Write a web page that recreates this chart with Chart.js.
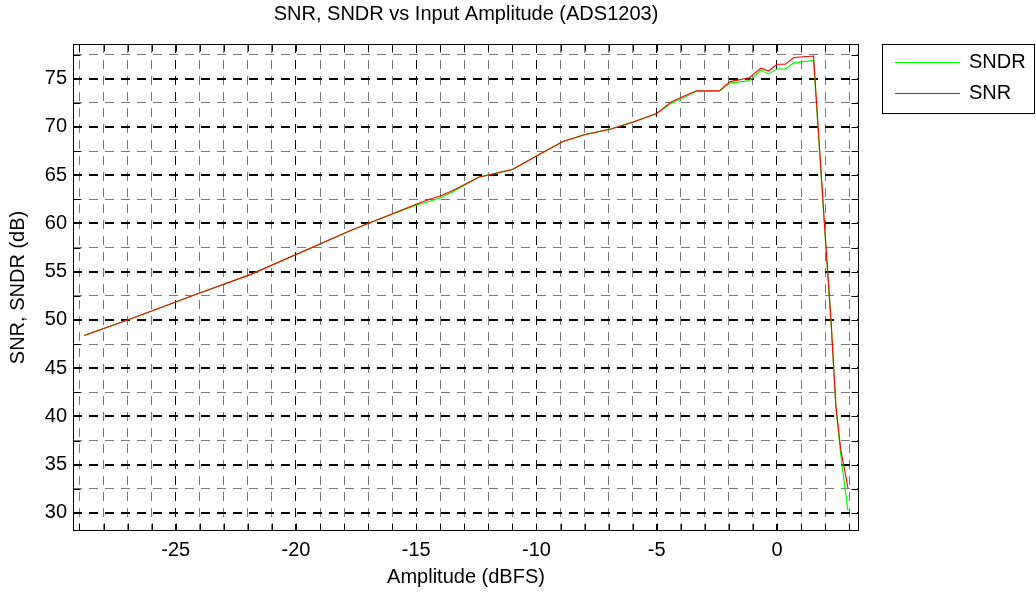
<!DOCTYPE html>
<html lang="en">
<head>
    <meta charset="UTF-8">
    <title>SNR, SNDR vs Input Amplitude</title>
    <script src="https://cdn.jsdelivr.net/npm/chart.js"></script>
    <style>
        body {
            margin: 0;
            padding: 0;
            background-color: #ffffff;
        }
    </style>
</head>
<body>
    <canvas id="snrChart" width="1036" height="593"></canvas>
    <script>
        // input amplitude (dBFS)
        const amplitude = [-28.8, -27.0, -24.0, -21.9, -17.7, -16.9, -15.0, -14.5, -14.0, -13.5, -12.4, -11.0, -10.0, -8.9, -8.0, -6.9, -6.0, -5.0, -4.4, -3.9, -3.35, -2.4, -1.95, -1.15, -0.67, -0.35, 0.0, 0.35, 0.7, 1.52, 1.75, 2.0, 2.25, 2.45, 2.65, 2.95];
        const snr = [48.4, 50.0, 52.8, 54.7, 59.3, 60.1, 62.0, 62.45, 62.85, 63.4, 64.8, 65.6, 67.0, 68.5, 69.2, 69.8, 70.5, 71.4, 72.6, 73.15, 73.75, 73.75, 74.7, 75.1, 76.1, 75.8, 76.5, 76.5, 77.2, 77.35, 68.5, 59.0, 49.8, 41.1, 36.6, 32.6];
        const sndr = [48.4, 50.0, 52.8, 54.7, 59.3, 60.1, 61.9, 62.25, 62.65, 63.25, 64.8, 65.6, 67.0, 68.5, 69.2, 69.8, 70.5, 71.4, 72.45, 73.0, 73.7, 73.7, 74.55, 74.8, 75.9, 75.5, 76.0, 76.0, 76.65, 76.9, 68.3, 58.8, 49.7, 40.9, 36.1, 30.2];

        // tick positions (grid every 1 dB / 2.5 dB, labels every 5)
        const xTicks = [];
        for (let v = -29; v <= 3; v++) xTicks.push(v);
        const yTicks = [];
        for (let v = 30; v <= 77.5; v += 2.5) yTicks.push(v);

        const FONT = '"Liberation Sans", Arial, Helvetica, sans-serif';
        Chart.defaults.font.family = FONT;
        Chart.defaults.font.size = 20;
        Chart.defaults.color = '#000';

        const toPoints = (ys) => ys.map((y, i) => ({ x: amplitude[i], y: y }));
        const isMajor = (v) => Math.abs(v % 5) < 1e-6;

        // plot box, inner tick marks and legend, drawn like the old matlab figure
        const axesFrame = {
            id: 'axesFrame',
            beforeDatasetsDraw(chart) {
                const { ctx, chartArea: a, scales } = chart;
                const l = Math.round(a.left) + 0.5, r = Math.round(a.right) - 0.5;
                const t = Math.round(a.top) + 0.5, b = Math.round(a.bottom) - 0.5;
                ctx.save();
                ctx.strokeStyle = '#000';
                ctx.lineWidth = 1;
                ctx.beginPath();
                xTicks.forEach(v => {
                    const px = Math.round(scales.x.getPixelForValue(v)) + 0.5;
                    ctx.moveTo(px, t); ctx.lineTo(px, t + 7);
                    ctx.moveTo(px, b); ctx.lineTo(px, b - 7);
                });
                yTicks.forEach(v => {
                    const py = Math.round(scales.y.getPixelForValue(v)) + 0.5;
                    ctx.moveTo(l, py); ctx.lineTo(l + 7, py);
                    ctx.moveTo(r, py); ctx.lineTo(r - 7, py);
                });
                ctx.stroke();
                ctx.strokeRect(l, t, r - l, b - t);
                ctx.restore();
            },
            afterDraw(chart) {
                const ctx = chart.ctx;
                ctx.save();
                ctx.fillStyle = '#fff';
                ctx.fillRect(882, 44, 153, 70);
                ctx.strokeStyle = '#000';
                ctx.lineWidth = 1;
                ctx.strokeRect(882.5, 44.5, 152, 69);
                ctx.font = '20px ' + FONT;
                ctx.textBaseline = 'middle';
                ctx.fillStyle = '#000';
                chart.data.datasets.forEach((ds, i) => {
                    const y = 62.5 + i * 31;
                    ctx.strokeStyle = ds.borderColor;
                    ctx.beginPath();
                    ctx.moveTo(895, y);
                    ctx.lineTo(960, y);
                    ctx.stroke();
                    ctx.fillText(ds.label, 969, y);
                });
                ctx.restore();
            }
        };

        const gridColor = (ctx) => isMajor(ctx.tick.value) ? '#000000' : '#7a7a7a';

        new Chart(document.getElementById('snrChart'), {
            type: 'line',
            data: {
                datasets: [{
                    label: 'SNDR',
                    data: toPoints(sndr),
                    borderColor: '#00ff00',
                    borderWidth: 1.2,
                    pointRadius: 0,
                    tension: 0,
                    order: 1
                }, {
                    label: 'SNR',
                    data: toPoints(snr),
                    borderColor: '#ff0000',
                    borderWidth: 1.1,
                    pointRadius: 0,
                    tension: 0,
                    order: 0
                }]
            },
            options: {
                responsive: false,
                animation: false,
                devicePixelRatio: 1,
                layout: {
                    padding: { left: 0, right: 177, top: 0, bottom: 0 }
                },
                plugins: {
                    legend: { display: false },
                    tooltip: { enabled: false },
                    title: {
                        display: true,
                        text: 'SNR, SNDR vs Input Amplitude (ADS1203)',
                        fullSize: false,
                        color: '#000',
                        font: { size: 20, weight: 'normal' },
                        padding: { top: 2, bottom: 18 }
                    }
                },
                scales: {
                    x: {
                        type: 'linear',
                        min: -29.27,
                        max: 3.41,
                        afterBuildTicks: (scale) => { scale.ticks = xTicks.map(v => ({ value: v })); },
                        afterFit: (scale) => { scale.height = 62; },
                        ticks: {
                            autoSkip: false,
                            maxRotation: 0,
                            padding: 7,
                            callback: (v) => isMajor(v) ? String(v) : ''
                        },
                        grid: {
                            color: gridColor,
                            lineWidth: 1,
                            drawTicks: false
                        },
                        border: { display: false, dash: [9, 7] },
                        title: {
                            display: true,
                            text: 'Amplitude (dBFS)',
                            padding: { top: 0, bottom: 4 }
                        }
                    },
                    y: {
                        type: 'linear',
                        min: 28.13,
                        max: 78.6,
                        afterBuildTicks: (scale) => { scale.ticks = yTicks.map(v => ({ value: v })); },
                        afterFit: (scale) => { scale.width = 73; },
                        ticks: {
                            autoSkip: false,
                            padding: 6,
                            callback: (v) => isMajor(v) ? String(v) : ''
                        },
                        grid: {
                            color: gridColor,
                            lineWidth: (ctx) => isMajor(ctx.tick.value) ? 2 : 1,
                            drawTicks: false
                        },
                        border: { display: false, dash: [9, 7] },
                        title: {
                            display: true,
                            text: 'SNR, SNDR (dB)',
                            padding: { top: 6, bottom: 0 }
                        }
                    }
                }
            },
            plugins: [axesFrame]
        });
    </script>
</body>
</html>
